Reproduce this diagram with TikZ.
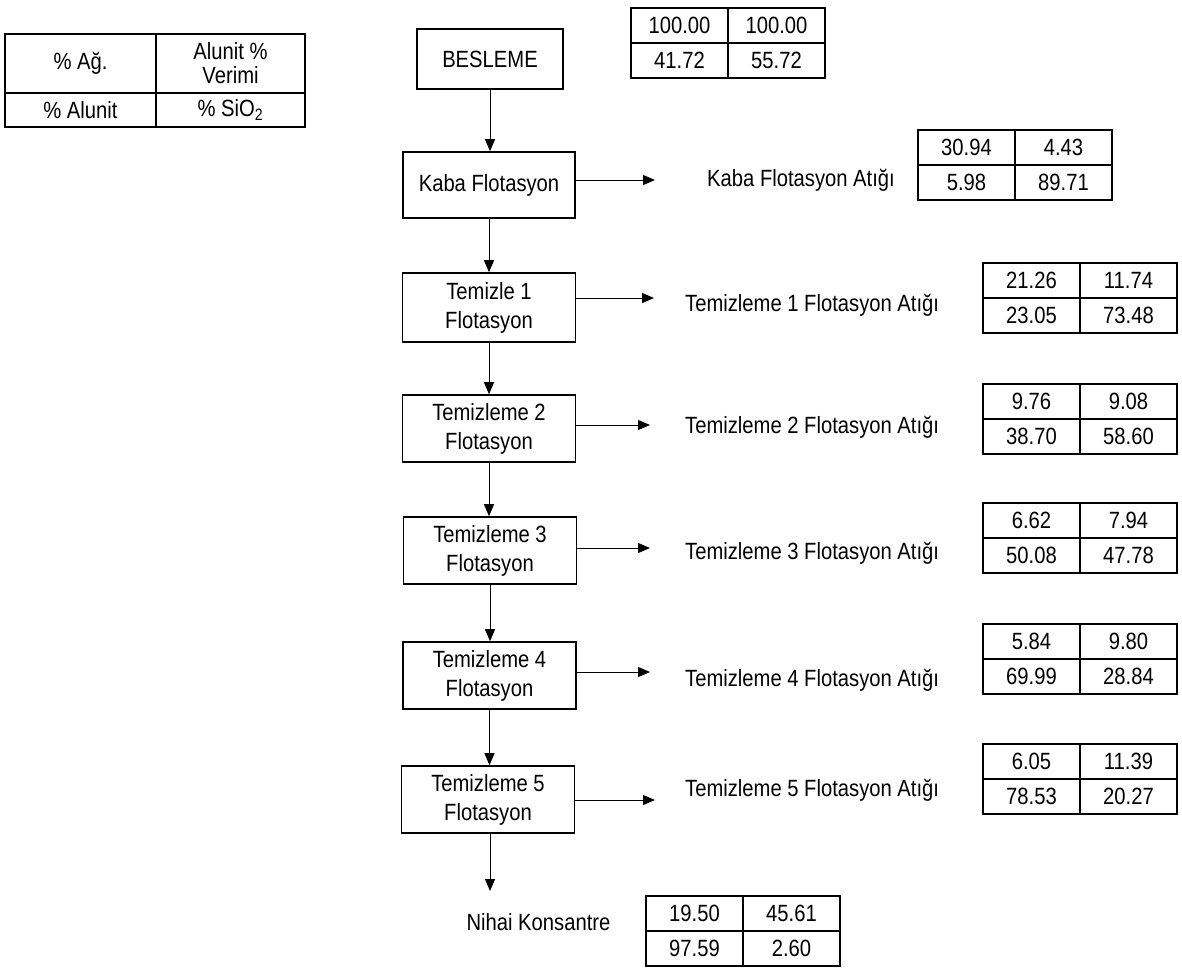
\documentclass[tikz,border=0pt]{standalone}
\usepackage{fontspec}
\setmainfont{Liberation Sans}[FakeStretch=0.86]
\usetikzlibrary{positioning,arrows.meta}
\begin{document}
\begin{tikzpicture}[x=1pt,y=-1pt,
 kutu/.style = {draw, line width=1.6pt, inner sep=0pt, minimum width=173pt, minimum height=67pt, align=center, font=\fontsize{23.5}{29}\selectfont},
 hucre/.style = {draw, line width=1.6pt, inner sep=0pt, outer sep=0pt, minimum width=97pt, minimum height=35pt, font=\fontsize{23.5}{28}\selectfont},
 yazi/.style = {inner sep=0pt, font=\fontsize{23.5}{28}\selectfont},
 ok/.style = {-{Triangle[length=12pt,width=10pt]}, line width=1pt}]
\useasboundingbox (0,0) rectangle (1182,970);
\node[hucre, minimum width=151pt, minimum height=59pt, anchor=north west](l1) at (5,34) {\% Ağ.}; \node[hucre, minimum width=149pt, minimum height=59pt, right=0pt of l1, align=center, font=\fontsize{23.5}{24}\selectfont](l2) {Alunit \%\\Verimi};
\node[hucre, minimum width=151pt, minimum height=34pt, below=0pt of l1](l3) {\% Alunit}; \node[hucre, minimum width=149pt, minimum height=34pt, below=0pt of l2](l4) {\% SiO\textsubscript{2}};
\node[kutu, minimum width=146pt, minimum height=60pt](bes) at (490,59) {BESLEME};
\node[kutu, minimum width=172pt, minimum height=66pt](kaba) at (489,185) {Kaba Flotasyon};
\node[kutu, minimum height=69pt](t1) at (489,307.5) {Temizle 1\\Flotasyon}; \node[kutu](t2) at (489,428.5) {Temizleme 2\\Flotasyon};
\node[kutu](t3) at (490,550.5) {Temizleme 3\\Flotasyon}; \node[kutu](t4) at (489.5,675.5) {Temizleme 4\\Flotasyon}; \node[kutu](t5) at (488,799.5) {Temizleme 5\\Flotasyon};
\node[yazi, anchor=west](kabaA) at (707,180) {Kaba Flotasyon Atığı};
\node[yazi, anchor=west](t1A) at (685,305) {Temizleme 1 Flotasyon Atığı}; \node[yazi, anchor=west](t2A) at (685,427) {Temizleme 2 Flotasyon Atığı};
\node[yazi, anchor=west](t3A) at (685,553) {Temizleme 3 Flotasyon Atığı}; \node[yazi, anchor=west](t4A) at (685,680) {Temizleme 4 Flotasyon Atığı};
\node[yazi, anchor=west](t5A) at (685,790) {Temizleme 5 Flotasyon Atığı};
\node[yazi](nihai) at (538.5,922) {Nihai Konsantre};
\draw[ok] (bes.south) -- (bes.south |- kaba.north); \draw[ok] (kaba.south) -- (kaba.south |- t1.north); \draw[ok] (t1.south) -- (t1.south |- t2.north);
\draw[ok] (t2.south) -- (t2.south |- t3.north); \draw[ok] (t3.south) -- (t3.south |- t4.north); \draw[ok] (t4.south) -- (t4.south |- t5.north);
\coordinate (son) at (490,891); \draw[ok] (t5.south -| son) -- (son);
\foreach \k/\y/\e in {kaba/180/655, t1/298/654, t2/425/650, t3/548/650, t4/672/650, t5/800/655}
 { \coordinate (\k o) at (\e,\y); \draw[ok] (\k.east |- \k o) -- (\k o); }
\foreach \ad/\x/\y/\a/\b/\c/\d in {b/631/8/100.00/100.00/41.72/55.72, k/918/130/30.94/4.43/5.98/89.71, s1/983/263/21.26/11.74/23.05/73.48, s2/983/384/9.76/9.08/38.70/58.60, s3/983/503/6.62/7.94/50.08/47.78, s4/983/624/5.84/9.80/69.99/28.84, s5/983/744/6.05/11.39/78.53/20.27, n/646/896/19.50/45.61/97.59/2.60}
 { \node[hucre, anchor=north west](\ad-1) at (\x,\y) {\a}; \node[hucre, right=0pt of \ad-1](\ad-2) {\b};
   \node[hucre, below=0pt of \ad-1](\ad-3) {\c}; \node[hucre, below=0pt of \ad-2](\ad-4) {\d}; }
\end{tikzpicture}
\end{document}
